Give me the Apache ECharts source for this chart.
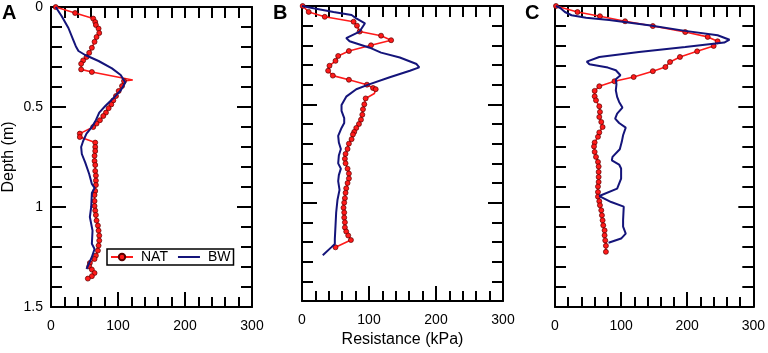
<!DOCTYPE html>
<html>
<head>
<meta charset="utf-8">
<script src="https://cdn.jsdelivr.net/npm/echarts@6/dist/echarts.min.js"></script>
<style>
  html, body { margin: 0; padding: 0; background: #fff; }
  #chart { width: 768px; height: 353px; }
</style>
</head>
<body>
<div id="chart"></div>
<script>
// [resistance kPa, depth m]
const natA = [[7,0],[36,0.03],[63,0.058],[66,0.075],[67,0.09],[71,0.108],[72,0.13],[68,0.15],[65,0.174],[61,0.204],[57,0.229],[53,0.25],[48,0.267],[45,0.284],[45,0.312],[61,0.325],{value:[122,0.365],symbol:'none'},[109,0.37],[106,0.395],[101,0.42],[97,0.445],[93,0.467],[90,0.487],[86,0.506],[82,0.528],[78,0.545],[73,0.566],[68,0.583],[63,0.6],[43,0.633],[43,0.65],[66,0.678],[66,0.70],[66,0.72],[65,0.744],[65,0.77],[66,0.79],[66,0.82],[67,0.843],[67,0.868],[67,0.89],[66,0.92],[65,0.94],[65,0.97],[65,0.995],[66,1.018],[67,1.04],[68,1.068],[70,1.093],[71,1.118],[72,1.143],[72,1.168],[71,1.193],[70,1.218],[67,1.243],[65,1.26],[58,1.28],[57,1.297],[61,1.313],[65,1.33],[61,1.346],[55,1.358]];
const bwA = [[7,0],[16,0.046],[26,0.105],[33,0.163],[37,0.196],[41,0.22],[51,0.24],[71,0.27],[91,0.307],[104,0.34],[111,0.378],[104,0.417],[93,0.456],[81,0.495],[72,0.528],[67,0.566],[61,0.6],[53,0.633],[48,0.67],[45,0.70],[46,0.735],[51,0.777],[57,0.835],[61,0.885],[65,0.905],[61,0.93],[60,1.0],[58,1.05],[62,1.118],[61,1.184],[65,1.21],[61,1.25],[53,1.31]];

const natB = [[1,0],[10,0.03],[34,0.055],[77,0.08],[82,0.10],[86,0.13],[118,0.151],[133,0.174],[103,0.20],[70,0.229],[54,0.254],[50,0.279],[41,0.304],[39,0.329],[46,0.354],[70,0.375],[97,0.40],[106,0.417],[110,0.423],{value:[108,0.445],symbol:'none'},[95,0.47],[93,0.50],[91,0.525],[90,0.553],[88,0.578],[85,0.60],[81,0.62],[78,0.64],[76,0.653],[74,0.677],[70,0.70],[68,0.727],[65,0.752],[64,0.777],[65,0.80],[68,0.827],[70,0.852],[70,0.877],[68,0.90],[66,0.927],[65,0.95],[64,0.977],[63,1.0],[62,1.026],[63,1.05],[63,1.076],[64,1.10],[64,1.126],[66,1.147],[69,1.167],[73,1.19],[50,1.227]];
const bwB = [[0,0],[19,0.013],[47,0.03],[74,0.046],[81,0.063],[94,0.088],[86,0.13],[66,0.163],[71,0.179],[101,0.212],[118,0.237],[146,0.262],[171,0.295],[175,0.312],[161,0.329],[131,0.362],[99,0.40],[81,0.423],[66,0.461],[59,0.503],[59,0.533],[63,0.57],[63,0.595],[59,0.62],[54,0.66],[55,0.694],[58,0.727],[55,0.76],[54,0.80],[58,0.827],[55,0.86],[54,0.89],[56,0.935],[53,0.985],[51,1.05],[50,1.118],[49,1.184],[49,1.21],[44,1.226],[31,1.267]];

const natC = [[1.5,0],[34,0.03],[68,0.051],[106,0.076],[148,0.10],[197,0.13],[231,0.154],[246,0.176],[240,0.199],[215,0.226],[189,0.254],[174,0.279],[167,0.304],[148,0.325],[119,0.354],[90,0.375],[67,0.40],[60,0.423],[60,0.45],[62,0.47],[67,0.50],[68,0.528],[67,0.553],[70,0.578],[72,0.603],[67,0.63],[65,0.652],[60,0.68],[59,0.70],[60,0.727],[62,0.752],[65,0.777],[66,0.80],[66,0.827],[66,0.852],[66,0.877],[65,0.90],[65,0.927],[65,0.95],[67,0.973],[68,0.993],[70,1.018],[71,1.043],[72,1.068],[73,1.093],[75,1.118],[75,1.143],[76,1.168],[77,1.195],[77,1.225]];
const bwC = [[1.5,0],[8,0.01],[15,0.03],[25,0.046],[47,0.058],[82,0.07],[142,0.096],[197,0.124],[246,0.146],[264,0.168],[256,0.182],[197,0.204],[127,0.229],[67,0.254],[48,0.277],[52,0.29],[80,0.307],[92,0.32],[99,0.345],[92,0.365],[93,0.39],[92,0.42],[94,0.453],[97,0.478],[102,0.506],[94,0.536],[91,0.561],[97,0.583],[107,0.606],[103,0.644],[101,0.677],[98,0.714],[87,0.752],[86,0.769],[97,0.79],[100,0.81],[100,0.86],[97,0.885],[94,0.91],[67,0.947],[85,0.977],[104,1.0],[103,1.068],[103,1.10],[107,1.134],[100,1.159],[81,1.18]];

const panelLetters = ['A', 'B', 'C'];
const xTicks = [0, 100, 200, 300];
const depthTicks = [0, 0.5, 1, 1.5];

const FONT = '"Liberation Sans", Arial, sans-serif';
const RED = '#ff1a1a';
const NAVY = '#14147a';

var chart = echarts.init(document.getElementById('chart'), null, { renderer: 'canvas' });

const panels = [
  { left: 51, nat: natA, bw: bwA },
  { left: 302, nat: natB, bw: bwB },
  { left: 555, nat: natC, bw: bwC },
];

const line = { color: '#000', width: 2 };
const grid = [], xAxis = [], yAxis = [], series = [];

panels.forEach((p, i) => {
  grid.push({ left: p.left, top: 6, width: 201, height: 301, containLabel: false });
  // bottom
  xAxis.push({
    gridIndex: i, type: 'value', position: 'bottom',
    min: xTicks[0], max: xTicks[xTicks.length - 1], interval: 100,
    name: i === 1 ? 'Resistance (kPa)' : '',
    nameLocation: 'middle', nameGap: 31,
    nameTextStyle: { fontSize: 16, color: '#000', fontFamily: FONT },
    axisLine: { show: true, onZero: false, lineStyle: line },
    axisTick: { inside: true, length: 15, lineStyle: line },
    minorTick: { show: true, splitNumber: 5, length: 10, lineStyle: line },
    splitLine: { show: false },
    axisLabel: { margin: 12, fontSize: 14, color: '#000', fontFamily: FONT },
  });
  // top
  xAxis.push({
    gridIndex: i, type: 'value', position: 'top',
    min: 0, max: 300, interval: 20,
    axisLine: { show: true, onZero: false, lineStyle: line },
    axisTick: { inside: true, length: 11, lineStyle: line },
    splitLine: { show: false },
    axisLabel: { show: false },
  });
  // left
  yAxis.push({
    gridIndex: i, type: 'value', position: 'left', inverse: true,
    min: depthTicks[0], max: depthTicks[depthTicks.length - 1], interval: 0.5,
    name: i === 0 ? 'Depth (m)' : '',
    nameLocation: 'middle', nameGap: 34,
    nameTextStyle: { fontSize: 16, color: '#000', fontFamily: FONT },
    axisLine: { show: true, onZero: false, lineStyle: line },
    axisTick: { inside: true, length: 15, lineStyle: line },
    minorTick: { show: true, splitNumber: 5, length: 11, lineStyle: line },
    splitLine: { show: false },
    axisLabel: { show: i === 0, margin: 8, fontSize: 14, color: '#000', fontFamily: FONT },
  });
  // right
  yAxis.push({
    gridIndex: i, type: 'value', position: 'right', inverse: true,
    min: 0, max: 1.5, interval: 0.5,
    axisLine: { show: true, onZero: false, lineStyle: line },
    axisTick: { inside: true, length: 15, lineStyle: line },
    minorTick: { show: true, splitNumber: 5, length: 11, lineStyle: line },
    splitLine: { show: false },
    axisLabel: { show: false },
  });

  series.push({
    name: 'NAT', type: 'line', xAxisIndex: 2 * i, yAxisIndex: 2 * i,
    data: p.nat, symbol: 'circle', symbolSize: 5,
    lineStyle: { color: RED, width: 1.6 },
    itemStyle: { color: RED, borderColor: '#5a0000', borderWidth: 0.7 },
    z: 3,
  });
  series.push({
    name: 'BW', type: 'line', xAxisIndex: 2 * i, yAxisIndex: 2 * i,
    data: p.bw, showSymbol: false, symbol: 'none',
    lineStyle: { color: NAVY, width: 2 },
    itemStyle: { color: NAVY },
    z: 4,
  });
});

chart.setOption({
  animation: false,
  backgroundColor: '#fff',
  textStyle: { fontFamily: FONT },
  grid, xAxis, yAxis, series,
  legend: {
    data: [{ name: 'NAT' }, { name: 'BW', icon: 'path://M0,0H22V2H0Z' }],
    left: 107, top: 249,
    orient: 'horizontal',
    padding: [1, 3],
    itemGap: 10, itemWidth: 22, itemHeight: 8,
    backgroundColor: '#fff', borderColor: '#000', borderWidth: 1.5,
    textStyle: { fontSize: 14, color: '#000', fontFamily: FONT, padding: [0, 0, 0, 3] },
  },
  graphic: panelLetters.map((t, i) => ({
    type: 'text', left: [2, 273, 525][i], top: 3,
    style: { text: t, font: 'bold 20px ' + FONT, fill: '#000' },
  })),
});
</script>
</body>
</html>
